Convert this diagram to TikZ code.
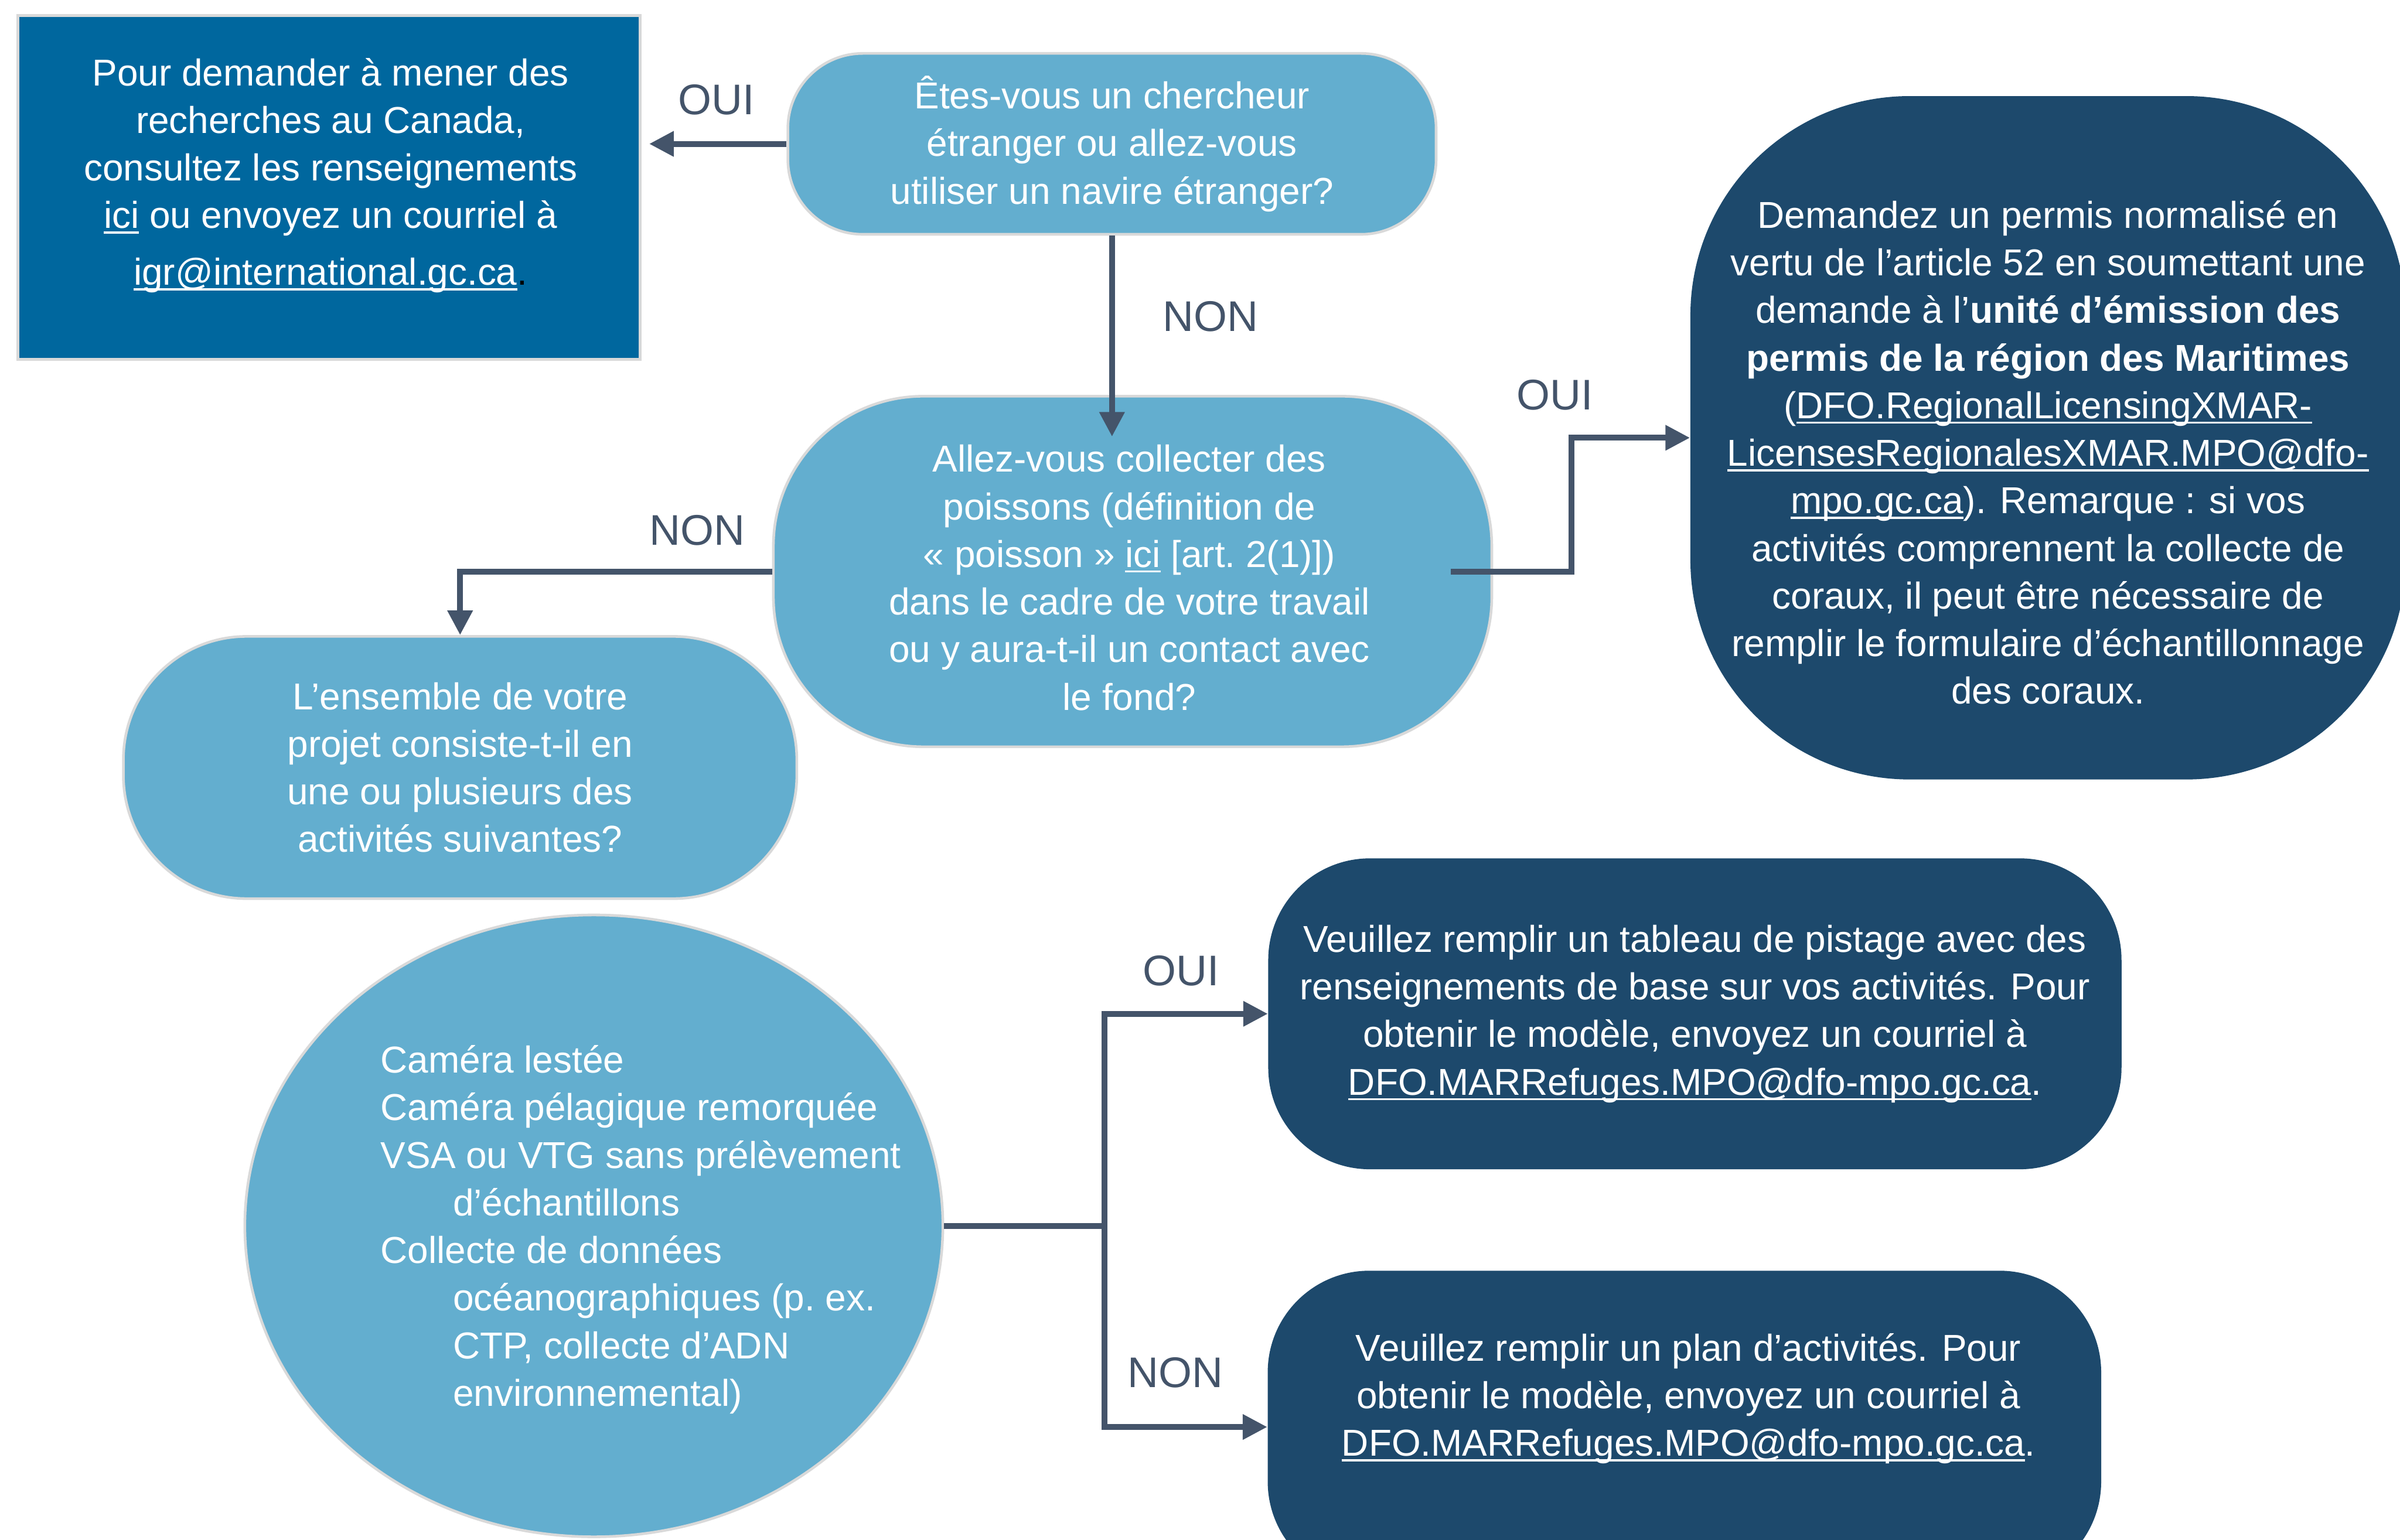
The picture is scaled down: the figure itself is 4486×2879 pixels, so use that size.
\documentclass[tikz,border=0pt]{standalone}
\usepackage{fontspec}
\setmainfont{Liberation Sans}
\usetikzlibrary{arrows.meta,shapes.geometric}
\definecolor{lblue}{HTML}{63AECF}
\definecolor{dblue}{HTML}{1D496C}
\definecolor{mblue}{HTML}{00679E}
\definecolor{slate}{HTML}{44546A}
\definecolor{edgegray}{HTML}{D9D9D9}
\newsavebox\ulbox
\newcommand\ulx[1]{\leavevmode\sbox\ulbox{#1}\rlap{\rule[-0.14em]{\wd\ulbox}{0.055em}}\usebox\ulbox\relax}
\tikzset{
  txt/.style={font=\fontsize{19.9}{25.3}\selectfont, text=white, align=center},
  lbox/.style={draw=edgegray, line width=0.05cm, fill=lblue, inner sep=0pt},
  dbox/.style={fill=dblue, inner sep=0pt},
  lab/.style={font=\fontsize{22.8}{27}\selectfont, text=slate, inner sep=0pt},
  conn/.style={draw=slate, line width=0.11cm},
  arr/.style={conn, -{Triangle[width=0.45cm,length=0.46cm]}},
}
\begin{document}
\begin{tikzpicture}[x=0.01cm, y=-0.01cm]
\useasboundingbox (0,0) rectangle (4486,2879);
\fill[white] (0,0) rectangle (4486,2879);
\clip (0,0) rectangle (4486,2879);

% boxes
\node[draw=edgegray, line width=0.06cm, fill=mblue, minimum width=11.62cm, minimum height=6.43cm, inner sep=0pt] (info) at (615,350.5) {};
\node[txt] (infot) at (618,328) {Pour demander à mener des\\ recherches au Canada,\\ consultez les renseignements\\ \ulx{ici} ou envoyez un courriel à\\[0.17cm] \ulx{igr@international.gc.ca}{\color{black}.}};

\node[lbox, rounded corners=1.4cm, minimum width=12.11cm, minimum height=3.38cm, txt] (q1) at (2078.5,269) {Êtes-vous un chercheur\\ étranger ou allez-vous\\ utiliser un navire étranger?};

\node[lbox, rounded corners=2.8cm, minimum width=13.42cm, minimum height=6.55cm] (q2) at (2117,1068.5) {};
\node[txt] (q2t) at (2111,1080) {Allez-vous collecter des\\ poissons (définition de\\ «~poisson~» \ulx{ici} [art.~2(1)])\\ dans le cadre de votre travail\\ ou y aura-t-il un contact avec\\ le fond?};

\node[lbox, rounded corners=2.3cm, minimum width=12.58cm, minimum height=4.9cm, txt] (q3) at (860,1435) {L’ensemble de votre\\ projet consiste-t-il en\\ une ou plusieurs des\\ activités suivantes?};

\node[lbox, ellipse, minimum width=13.04cm, minimum height=11.62cm] (act) at (1110,2292) {};
\node[txt, align=left, anchor=west, inner sep=0pt] (actt) at (711,2299) {Caméra lestée\\ Caméra pélagique remorquée\\ VSA ou VTG sans prélèvement\\ \hspace*{1.35cm}d’échantillons\\ Collecte de données\\ \hspace*{1.35cm}océanographiques (p.~ex.\\ \hspace*{1.35cm}CTP, collecte d’ADN\\ \hspace*{1.35cm}environnemental)};

\node[dbox, rounded corners=4.1cm, minimum width=13.36cm, minimum height=12.77cm] (permit) at (3828,818.5) {};
\node[txt] (permitt) at (3828,846) {Demandez un permis normalisé en\\ vertu de l’article 52 en soumettant une\\ demande à l’\textbf{unité d’émission des}\\ \textbf{permis de la région des Maritimes}\\ (\ulx{DFO.RegionalLicensingXMAR-}\\ \ulx{LicensesRegionalesXMAR.MPO@dfo-}\\ \ulx{mpo.gc.ca}). Remarque~: si vos\\ activités comprennent la collecte de\\ coraux, il peut être nécessaire de\\ remplir le formulaire d’échantillonnage\\ des coraux.};

\node[dbox, rounded corners=1.9cm, minimum width=15.94cm, minimum height=5.81cm, txt] (track) at (3168,1895.5) {Veuillez remplir un tableau de pistage avec des\\ renseignements de base sur vos activités. Pour\\ obtenir le modèle, envoyez un courriel à\\ \ulx{DFO.MARRefuges.MPO@dfo-mpo.gc.ca}.};

\node[dbox, rounded corners=1.9cm, minimum width=15.57cm, minimum height=5.84cm] (plan) at (3148.5,2668) {};
\node[txt] (plant) at (3156,2615) {Veuillez remplir un plan d’activités. Pour\\ obtenir le modèle, envoyez un courriel à\\ \ulx{DFO.MARRefuges.MPO@dfo-mpo.gc.ca}.};

% connectors
\draw[arr] (q1.west) -- ([xshift=0.14cm]q1.west -| info.east);
\draw[arr] (q1.south) -- ([yshift=-0.78cm]q1.south |- q2.north);
\draw[arr] (q2.west) -| (q3.north);
\draw[arr] ([xshift=-0.79cm]q2.east) -- ++(226,0) |- (permit.west);
\coordinate (br) at (2064,2292);
\draw[conn] (act.east) -- (br);
\draw[arr] (br) |- (track.west);
\draw[arr] (br) |- (plan.west);

% labels
\node[lab] (l1) at (1339,186) {OUI};
\node[lab] (l2) at (2263,592) {NON};
\node[lab] (l3) at (1303,992) {NON};
\node[lab] (l4) at (2906,738) {OUI};
\node[lab] (l5) at (2208,1815) {OUI};
\node[lab] (l6) at (2197,2566) {NON};
\end{tikzpicture}
\end{document}
